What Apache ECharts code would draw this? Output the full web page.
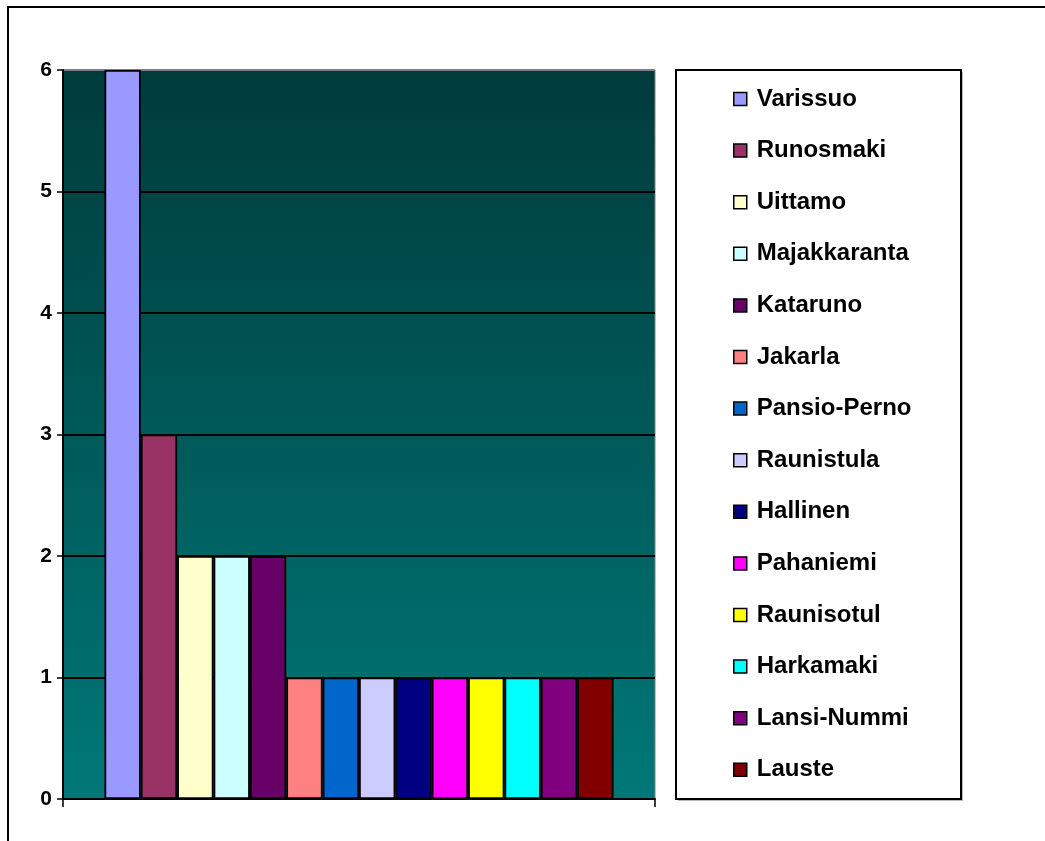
<!DOCTYPE html>
<html>
<head>
<meta charset="utf-8">
<script src="https://cdn.jsdelivr.net/npm/echarts@6/dist/echarts.min.js"></script>
<style>
  html, body { margin: 0; padding: 0; background: #fff; }
  #chart { width: 1045px; height: 841px; }
</style>
</head>
<body>
<div id="chart"></div>
<script>
// Counts per district (one bar each)
const districts = ['Varissuo', 'Runosmaki', 'Uittamo', 'Majakkaranta', 'Kataruno', 'Jakarla',
  'Pansio-Perno', 'Raunistula', 'Hallinen', 'Pahaniemi', 'Raunisotul', 'Harkamaki', 'Lansi-Nummi', 'Lauste'];
const counts = [6, 3, 2, 2, 2, 1, 1, 1, 1, 1, 1, 1, 1, 1];
const barColors = ['#9999FF', '#993366', '#FFFFCC', '#CCFFFF', '#660066', '#FF8080',
  '#0066CC', '#CCCCFF', '#000080', '#FF00FF', '#FFFF00', '#00FFFF', '#800080', '#800000'];
const yTicks = [0, 1, 2, 3, 4, 5, 6];

const chart = echarts.init(document.getElementById('chart'), null, { renderer: 'canvas' });

const series = districts.map((name, i) => ({
  name: name,
  type: 'bar',
  data: [counts[i]],
  barGap: '0%',
  barCategoryGap: '14%',
  itemStyle: { color: barColors[i], borderColor: '#000', borderWidth: 1.8 },
  z: 3
}));

chart.setOption({
  animation: false,
  backgroundColor: '#fff',
  textStyle: { fontFamily: 'Liberation Sans, Arial, sans-serif' },
  grid: {
    left: 63, top: 70, width: 592, height: 729,
    show: true,
    borderColor: '#808080', borderWidth: 1,
    backgroundColor: {
      type: 'linear', x: 0, y: 0, x2: 0, y2: 1,
      colorStops: [
        { offset: 0, color: '#003b3b' },
        { offset: 1, color: '#007878' }
      ]
    }
  },
  xAxis: {
    type: 'category',
    data: [''],
    boundaryGap: true,
    axisLine: { lineStyle: { color: '#000', width: 2 } },
    axisTick: { show: true, length: 8, lineStyle: { color: '#000', width: 1.5 } },
    axisLabel: { show: false }
  },
  yAxis: {
    type: 'value',
    min: yTicks[0],
    max: yTicks[yTicks.length - 1],
    interval: 1,
    axisLine: { show: true, lineStyle: { color: '#000', width: 2 } },
    axisTick: { show: true, length: 6, lineStyle: { color: '#000', width: 1.5 } },
    axisLabel: {
      margin: 11, color: '#000', fontSize: 21, fontWeight: 'bold',
      fontFamily: 'Liberation Sans, Arial, sans-serif'
    },
    splitLine: {
      show: true,
      lineStyle: { color: ['#000', '#000', '#000', '#000', '#000', '#000', '#808080'], width: 2 }
    }
  },
  legend: {
    orient: 'vertical',
    left: 728, top: 82,
    itemWidth: 13, itemHeight: 13,
    itemGap: 27.6,
    icon: 'rect',
    selectedMode: false,
    itemStyle: { borderColor: '#000', borderWidth: 1.5 },
    textStyle: {
      color: '#000', fontSize: 24, fontWeight: 'bold', lineHeight: 24,
      fontFamily: 'Liberation Sans, Arial, sans-serif', padding: [0, 0, 0, 5]
    },
    data: districts
  },
  graphic: [
    // outer chart frame (top and left edges)
    { type: 'polyline', shape: { points: [[8, 841], [8, 7], [1045, 7]] },
      style: { stroke: '#000', lineWidth: 2, fill: null }, silent: true },
    // legend box shadow and frame
    { type: 'rect', shape: { x: 678, y: 72, width: 285, height: 729 },
      style: { fill: '#b8b8b8' }, z: -1, silent: true },
    { type: 'rect', shape: { x: 676, y: 70, width: 285, height: 729 },
      style: { fill: '#fff', stroke: '#000', lineWidth: 2 }, z: 0, silent: true }
  ],
  series: series
});
</script>
</body>
</html>
